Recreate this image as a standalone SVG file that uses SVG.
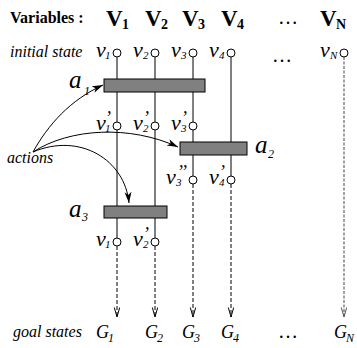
<svg xmlns="http://www.w3.org/2000/svg" width="357" height="348" viewBox="0 0 357 348">
<style>
text{font-family:"Liberation Serif",serif;fill:#000}
.hd{font-weight:bold;font-size:16px}
.V{font-weight:bold;font-size:23px}
.Vs{font-weight:bold;font-size:14px}
.it{font-style:italic;font-size:16px}
.v{font-style:italic;font-size:22px}
.p{font-style:italic;font-size:18px}
.s{font-style:italic;font-size:11px}
.a{font-style:italic;font-size:25px}
.as{font-style:italic;font-size:12px}
.G{font-style:italic;font-size:18px}
.Gs{font-style:italic;font-size:12px}
.dots{font-size:20px}
.sol{stroke:#000;stroke-width:1;fill:none}
.dash{stroke:#000;stroke-width:1;fill:none;stroke-dasharray:4,2}
.gdash{stroke:#666;stroke-width:1.2;fill:none;stroke-dasharray:3,1.5}
.c{fill:#fff;stroke:#000;stroke-width:1}
.bar{fill:#808080;stroke:#000;stroke-width:1}
.curve{stroke:#000;stroke-width:1;fill:none;marker-end:url(#fa)}
</style>
<defs>
<marker id="fa" markerUnits="userSpaceOnUse" markerWidth="12" markerHeight="8" refX="11" refY="3.5" orient="auto">
<path d="M0,0 L11,3.5 L0,7 L3,3.5 z" fill="#000"/>
</marker>
<marker id="oa" markerUnits="userSpaceOnUse" markerWidth="12" markerHeight="8" refX="10" refY="3" orient="auto">
<path d="M0.5,0.3 L10,3 L0.5,5.7" fill="none" stroke="#000" stroke-width="1"/>
</marker>
<marker id="ga" markerUnits="userSpaceOnUse" markerWidth="12" markerHeight="8" refX="10" refY="3" orient="auto">
<path d="M0.5,0.3 L10,3 L0.5,5.7" fill="none" stroke="#555" stroke-width="1"/>
</marker>
</defs>

<g id="header">
<text class="hd" x="10" y="23">Variables :</text>
<text class="V" x="106" y="26">V</text><text class="Vs" x="122" y="29">1</text>
<text class="V" x="145" y="26">V</text><text class="Vs" x="161" y="29">2</text>
<text class="V" x="182" y="26">V</text><text class="Vs" x="198" y="29">3</text>
<text class="V" x="221" y="26">V</text><text class="Vs" x="237" y="29">4</text>
<text class="dots" x="278" y="24">…</text>
<text class="V" x="320" y="26">V</text><text class="Vs" x="336" y="29">N</text>
<text class="it" x="10" y="57">initial state</text>
<text class="it" x="7" y="163">actions</text>
<text class="it" x="13" y="337">goal states</text>
</g>

<g id="connectors">
<line class="sol" x1="117" y1="57" x2="117" y2="238"/>
<line class="sol" x1="155" y1="57" x2="155" y2="238"/>
<line class="sol" x1="193" y1="57" x2="193" y2="176"/>
<line class="sol" x1="231" y1="57" x2="231" y2="176"/>
<line class="dash" x1="117" y1="246" x2="117" y2="317" marker-end="url(#oa)"/>
<line class="dash" x1="155" y1="246" x2="155" y2="317" marker-end="url(#oa)"/>
<line class="dash" x1="193" y1="184" x2="193" y2="317" marker-end="url(#oa)"/>
<line class="dash" x1="231" y1="184" x2="231" y2="317" marker-end="url(#oa)"/>
<line class="gdash" x1="344" y1="57" x2="344" y2="317" marker-end="url(#ga)"/>
<path class="curve" d="M33,152 C48,125 70,100 103,85"/>
<path class="curve" d="M33,152 C70,128 130,125 178,147"/>
<path class="curve" d="M33,152 C80,132 125,160 129,203"/>
</g>

<g id="a1">
<rect class="bar" x="104" y="79" width="101" height="13"/>
<text class="a" x="69" y="88">a</text><text class="as" x="84" y="95">1</text>
</g>
<g id="a2">
<rect class="bar" x="180" y="142" width="67" height="13"/>
<text class="a" x="255" y="153">a</text><text class="as" x="268" y="158">2</text>
</g>
<g id="a3">
<rect class="bar" x="104" y="206" width="63" height="12"/>
<text class="a" x="69" y="217">a</text><text class="as" x="82" y="221">3</text>
</g>

<g id="v1">
<circle class="c" cx="117" cy="53" r="4"/>
<text class="v" x="96" y="56.5">v</text><text class="s" x="105" y="59">1</text>
</g>
<g id="v2">
<circle class="c" cx="155" cy="53" r="4"/>
<text class="v" x="133" y="56.5">v</text><text class="s" x="143" y="59">2</text>
</g>
<g id="v3">
<circle class="c" cx="193" cy="53" r="4"/>
<text class="v" x="171" y="56.5">v</text><text class="s" x="181" y="59">3</text>
</g>
<g id="v4">
<circle class="c" cx="231" cy="53" r="4"/>
<text class="v" x="209" y="56.5">v</text><text class="s" x="219" y="59">4</text>
</g>
<g id="vdots"><text class="dots" x="272" y="62">…</text></g>
<g id="vN">
<circle class="c" cx="344" cy="53" r="4"/>
<text class="v" x="320" y="56.5">v</text><text class="s" x="330" y="59">N</text>
</g>

<g id="v1p">
<circle class="c" cx="117" cy="126" r="4"/>
<text class="v" x="96" y="129.5">v</text><text class="p" x="105" y="124">’</text><text class="s" x="105" y="132">1</text>
</g>
<g id="v2p">
<circle class="c" cx="155" cy="126" r="4"/>
<text class="v" x="133" y="129.5">v</text><text class="p" x="143" y="124">’</text><text class="s" x="143" y="132">2</text>
</g>
<g id="v3p">
<circle class="c" cx="193" cy="126" r="4"/>
<text class="v" x="171" y="129.5">v</text><text class="p" x="181" y="124">’</text><text class="s" x="181" y="132">3</text>
</g>

<g id="v3pp">
<circle class="c" cx="193" cy="180" r="4"/>
<text class="v" x="166" y="183.5">v</text><text class="p" x="177" y="178">’’</text><text class="s" x="176" y="186">3</text>
</g>
<g id="v4p">
<circle class="c" cx="231" cy="180" r="4"/>
<text class="v" x="209" y="183.5">v</text><text class="p" x="219" y="178">’</text><text class="s" x="219" y="186">4</text>
</g>

<g id="v1b">
<circle class="c" cx="117" cy="242" r="4"/>
<text class="v" x="96" y="245.5">v</text><text class="s" x="105" y="248">1</text>
</g>
<g id="v2b">
<circle class="c" cx="155" cy="242" r="4"/>
<text class="v" x="133" y="245.5">v</text><text class="p" x="143" y="240">’</text><text class="s" x="143" y="248">2</text>
</g>

<g id="goals">
<text class="G" x="96" y="338">G</text><text class="Gs" x="108" y="342">1</text>
<text class="G" x="145" y="338">G</text><text class="Gs" x="157" y="342">2</text>
<text class="G" x="182" y="338">G</text><text class="Gs" x="194" y="342">3</text>
<text class="G" x="221" y="338">G</text><text class="Gs" x="233" y="342">4</text>
<text class="dots" x="278" y="338">…</text>
<text class="G" x="334" y="338">G</text><text class="Gs" x="346" y="342">N</text>
</g>
</svg>
